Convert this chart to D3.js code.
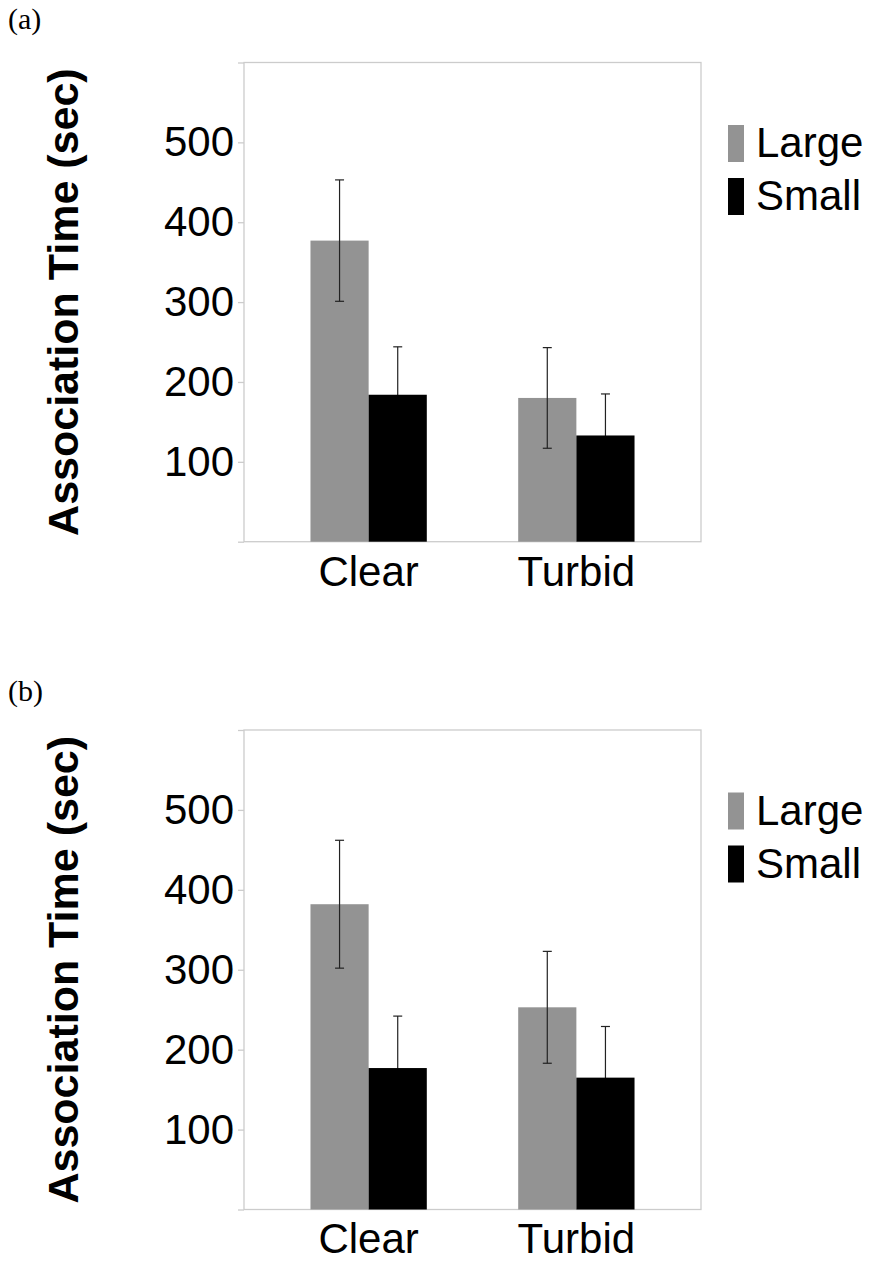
<!DOCTYPE html>
<html>
<head>
<meta charset="utf-8">
<script src="https://cdn.jsdelivr.net/npm/d3@7"></script>
<style>
  html, body { margin: 0; padding: 0; background: #fff; }
  svg { display: block; }
</style>
</head>
<body>
<svg id="chart" width="872" height="1262"></svg>
<script>
// ---- data ----
const categories = ["Clear", "Turbid"];
const seriesNames = ["Large", "Small"];
const yTickValues = [0, 100, 200, 300, 400, 500, 600];
const yTickLabels = ["", "100", "200", "300", "400", "500", ""];

const panelLabels = ["(a)", "(b)"];

const panelA_large = [377, 180];
const panelA_small = [184, 133];
const panelA_largeErr = [76, 63];
const panelA_smallErr = [60, 52];

const panelB_large = [382, 253];
const panelB_small = [177, 165];
const panelB_largeErr = [80, 70];
const panelB_smallErr = [65, 64];

const yTitle = "Association Time (sec)";

// ---- layout ----
const colors = { Large: "#939393", Small: "#000000" };
const frameColor = "#cccccc";
const plotLeft = 244, plotRight = 701;

const panels = [
  { label: panelLabels[0], labelY: 29, top: 62.5, bottom: 541.7,
    values: { Large: panelA_large, Small: panelA_small },
    errs: { Large: panelA_largeErr, Small: panelA_smallErr } },
  { label: panelLabels[1], labelY: 701, top: 730, bottom: 1209.5,
    values: { Large: panelB_large, Small: panelB_small },
    errs: { Large: panelB_largeErr, Small: panelB_smallErr } }
];

const svg = d3.select("#chart");
const sans = "'Liberation Sans', Arial, Helvetica, sans-serif";

panels.forEach(p => {
  const g = svg.append("g");

  const x = d3.scaleBand().domain(categories).range([plotLeft, plotRight])
    .paddingInner(0.44).paddingOuter(0.32);
  const xs = d3.scaleBand().domain(seriesNames).range([0, x.bandwidth()]);
  const y = d3.scaleLinear().domain([0, 600]).range([p.bottom, p.top]);

  // panel label
  g.append("text").attr("x", 8).attr("y", p.labelY)
    .attr("font-family", "'Liberation Serif', 'Times New Roman', serif")
    .attr("font-size", 30).attr("fill", "#000").text(p.label);

  // frame
  g.append("rect").attr("x", plotLeft).attr("y", y(600))
    .attr("width", plotRight - plotLeft).attr("height", y(0) - y(600))
    .attr("fill", "none").attr("stroke", frameColor).attr("stroke-width", 1.3);

  // y axis
  const yAxis = d3.axisLeft(y).tickValues(yTickValues)
    .tickSize(6).tickPadding(4)
    .tickFormat((d, i) => yTickLabels[i]);
  const ya = g.append("g").attr("transform", `translate(${plotLeft},0)`).call(yAxis);
  ya.select(".domain").remove();
  ya.selectAll(".tick line").attr("stroke", frameColor).attr("stroke-width", 1.3);
  ya.selectAll(".tick text").attr("font-family", sans).attr("font-size", 42)
    .attr("fill", "#000");

  // x axis labels
  const xAxis = d3.axisBottom(x).tickSize(0).tickPadding(14);
  const xa = g.append("g").attr("transform", `translate(0,${y(0)})`).call(xAxis);
  xa.select(".domain").remove();
  xa.selectAll(".tick text").attr("font-family", sans).attr("font-size", 42)
    .attr("fill", "#000");

  const rows = [];
  categories.forEach((c, ci) => {
    seriesNames.forEach(s => {
      rows.push({ cat: c, series: s, value: p.values[s][ci], err: p.errs[s][ci] });
    });
  });

  const cx = d => x(d.cat) + xs(d.series) + xs.bandwidth() / 2;
  const cap = 4.5;
  function drawErr(sel, data) {
    const eb = sel.selectAll(null).data(data).enter().append("g")
      .attr("stroke", "#222").attr("stroke-width", 1.2);
    eb.append("line")
      .attr("x1", cx).attr("x2", cx)
      .attr("y1", d => y(d.value + d.err))
      .attr("y2", d => y(d.value - d.err));
    [1, -1].forEach(sign => {
      eb.append("line")
        .attr("x1", d => cx(d) - cap).attr("x2", d => cx(d) + cap)
        .attr("y1", d => y(d.value + sign * d.err))
        .attr("y2", d => y(d.value + sign * d.err));
    });
  }

  // error bars behind the black bars (lower half hidden)
  drawErr(g.append("g"), rows.filter(r => r.series === "Small"));

  // bars
  g.selectAll("rect.bar").data(rows).enter().append("rect")
    .attr("class", "bar")
    .attr("x", d => x(d.cat) + xs(d.series))
    .attr("y", d => y(d.value))
    .attr("width", xs.bandwidth())
    .attr("height", d => y(0) - y(d.value))
    .attr("fill", d => colors[d.series]);

  // error bars over the grey bars
  drawErr(g.append("g"), rows.filter(r => r.series === "Large"));

  // y title
  g.append("text")
    .attr("transform", `translate(78,${(p.top + p.bottom) / 2}) rotate(-90)`)
    .attr("text-anchor", "middle")
    .attr("font-family", sans).attr("font-weight", "bold").attr("font-size", 43)
    .attr("fill", "#000").text(yTitle);

  // legend
  const leg = g.selectAll("g.leg").data(seriesNames).enter().append("g")
    .attr("class", "leg")
    .attr("transform", (d, i) => `translate(728,${p.top + 62.5 + i * 53})`);
  leg.append("rect").attr("width", 16).attr("height", 37)
    .attr("fill", d => colors[d]);
  leg.append("text").attr("x", 28).attr("y", 32)
    .attr("font-family", sans).attr("font-size", 42).attr("fill", "#000")
    .text(d => d);
});
</script>
</body>
</html>
